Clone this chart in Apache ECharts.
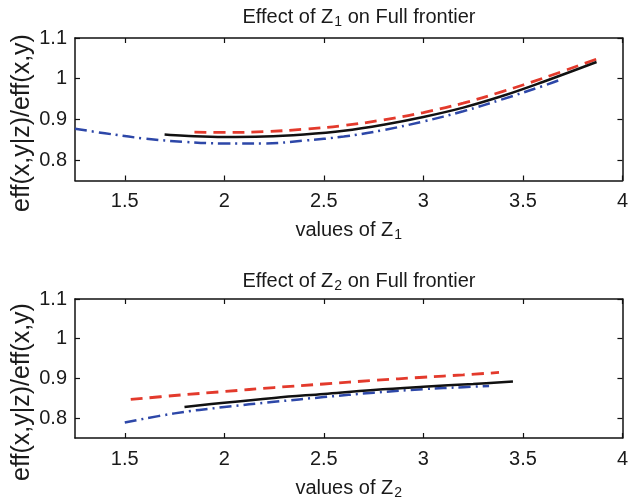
<!DOCTYPE html>
<html>
<head>
<meta charset="utf-8">
<script src="https://cdn.jsdelivr.net/npm/echarts@6/dist/echarts.min.js"></script>
<style>html,body{margin:0;padding:0;background:#fff;}#c{width:631px;height:501px;}</style>
</head>
<body>
<div id="c"></div>
<script>
// ---- data ----
var xTicks = [1.5, 2, 2.5, 3, 3.5, 4];
var yTicks = [0.8, 0.9, 1, 1.1];

// Effect of Z1
var z1BlueX  = [1.25, 1.4, 1.6, 1.8, 2.0, 2.2, 2.4, 2.6, 2.8, 3.0, 3.2, 3.4, 3.6, 3.68];
var z1BlueY  = [0.877, 0.866, 0.853, 0.845, 0.841, 0.841, 0.848, 0.858, 0.874, 0.895, 0.920, 0.950, 0.982, 0.996];
var z1BlackX = [1.70, 1.8, 2.0, 2.2, 2.4, 2.6, 2.8, 3.0, 3.2, 3.4, 3.6, 3.87];
var z1BlackY = [0.863, 0.860, 0.857, 0.858, 0.863, 0.872, 0.887, 0.906, 0.929, 0.958, 0.992, 1.041];
var z1RedX   = [1.85, 2.0, 2.2, 2.4, 2.6, 2.8, 3.0, 3.2, 3.4, 3.6, 3.88];
var z1RedY   = [0.869, 0.868, 0.870, 0.876, 0.885, 0.899, 0.917, 0.940, 0.969, 1.001, 1.050];

// Effect of Z2
var z2RedX   = [1.53, 1.75, 2.0, 2.25, 2.5, 2.75, 3.0, 3.2, 3.38];
var z2RedY   = [0.847, 0.857, 0.867, 0.877, 0.886, 0.895, 0.903, 0.909, 0.915];
var z2BlackX = [1.80, 2.0, 2.25, 2.5, 2.75, 3.0, 3.25, 3.45];
var z2BlackY = [0.828, 0.839, 0.851, 0.861, 0.871, 0.879, 0.886, 0.892];
var z2BlueX  = [1.50, 1.75, 2.0, 2.25, 2.5, 2.75, 3.0, 3.2, 3.33];
var z2BlueY  = [0.789, 0.812, 0.828, 0.841, 0.853, 0.864, 0.873, 0.878, 0.881];

var titles = ['Effect of Z', ' on Full frontier'];
var subs = ['1', '2'];
var xNames = 'values of Z';
var yName = 'eff(x,y|z)/eff(x,y)';

// ---- chart ----
function pairs(xs, ys) { return xs.map(function (x, i) { return [x, ys[i]]; }); }

var FONT = '"Liberation Sans", Arial, Helvetica, sans-serif';
var TXT = '#1a1a1a';
var RED = '#e33a2c';
var BLUE = '#2d47a8';
var BLACK = '#111111';

var rich = {
  a: { fontSize: 20, fontFamily: FONT, fontWeight: 'normal', color: TXT, lineHeight: 22, verticalAlign: 'top' },
  s: { fontSize: 14, fontFamily: FONT, fontWeight: 'normal', color: TXT, lineHeight: 14, verticalAlign: 'bottom', padding: [10, 0, 0, 1] }
};

var grids = [
  { left: 75, top: 38, width: 548, height: 142.5 },
  { left: 75, top: 299, width: 547.5, height: 143 }
];

var xAxes = [], yAxes = [];
grids.forEach(function (g, gi) {
  var common = {
    gridIndex: gi, type: 'value', min: 1.25, max: 4,
    axisLine: { show: true, onZero: false, lineStyle: { color: '#111', width: 1.5 } },
    axisTick: { show: true, inside: true, length: 5, customValues: xTicks, lineStyle: { color: '#111', width: 1.2 } },
    splitLine: { show: false }
  };
  xAxes.push(Object.assign({}, common, {
    position: 'bottom',
    axisLabel: { show: true, customValues: xTicks, fontSize: 20, fontFamily: FONT, color: TXT, margin: 11,
      formatter: function (v) { return String(v); } },
    name: '{a|' + xNames + '}{s|' + subs[gi] + '}',
    nameLocation: 'middle', nameGap: 40,
    nameTextStyle: { rich: rich }
  }));
  xAxes.push(Object.assign({}, common, {
    position: 'top',
    axisLabel: { show: false }
  }));
  var ycommon = {
    gridIndex: gi, type: 'value', min: 0.75, max: 1.1,
    axisLine: { show: true, onZero: false, lineStyle: { color: '#111', width: 1.5 } },
    axisTick: { show: true, inside: true, length: 5, customValues: yTicks, lineStyle: { color: '#111', width: 1.2 } },
    splitLine: { show: false }
  };
  yAxes.push(Object.assign({}, ycommon, {
    position: 'left',
    axisLabel: { show: true, customValues: yTicks, fontSize: 20, fontFamily: FONT, color: TXT, margin: 8,
      formatter: function (v) { return String(Math.round(v * 10) / 10); } }
  }));
  yAxes.push(Object.assign({}, ycommon, {
    position: 'right',
    axisLabel: { show: false }
  }));
});

function line(data, gi, color, type, width) {
  return {
    type: 'line', xAxisIndex: gi * 2, yAxisIndex: gi * 2, data: data,
    showSymbol: false, symbol: 'none', smooth: 0.4, silent: true,
    lineStyle: { color: color, width: width, type: type, cap: 'butt' },
    animation: false
  };
}

var option = {
  animation: false,
  backgroundColor: '#fff',
  title: [
    { text: '{a|' + titles[0] + '}{s|' + subs[0] + '}{a|' + titles[1] + '}', left: 354, top: 2, textAlign: 'center',
      textStyle: { fontWeight: 'normal', rich: rich } },
    { text: '{a|' + titles[0] + '}{s|' + subs[1] + '}{a|' + titles[1] + '}', left: 354, top: 266, textAlign: 'center',
      textStyle: { fontWeight: 'normal', rich: rich } }
  ],
  grid: grids,
  xAxis: xAxes,
  yAxis: yAxes,
  series: [
    line(pairs(z1BlueX, z1BlueY), 0, BLUE, [12, 5, 2, 5], 2.5),
    line(pairs(z1RedX, z1RedY), 0, RED, [12, 7], 2.8),
    line(pairs(z1BlackX, z1BlackY), 0, BLACK, 'solid', 2.5),
    line(pairs(z2BlueX, z2BlueY), 1, BLUE, [12, 5, 2, 5], 2.5),
    line(pairs(z2RedX, z2RedY), 1, RED, [12, 7], 2.8),
    line(pairs(z2BlackX, z2BlackY), 1, BLACK, 'solid', 2.5)
  ],
  graphic: [
    { type: 'text', x: 22, y: 123, rotation: Math.PI / 2,
      style: { text: yName, fontSize: 25, fontFamily: FONT, fill: TXT, align: 'center', verticalAlign: 'middle' } },
    { type: 'text', x: 22, y: 392, rotation: Math.PI / 2,
      style: { text: yName, fontSize: 25, fontFamily: FONT, fill: TXT, align: 'center', verticalAlign: 'middle' } }
  ]
};

var chart = echarts.init(document.getElementById('c'), null, { renderer: 'canvas' });
chart.setOption(option);
</script>
</body>
</html>
